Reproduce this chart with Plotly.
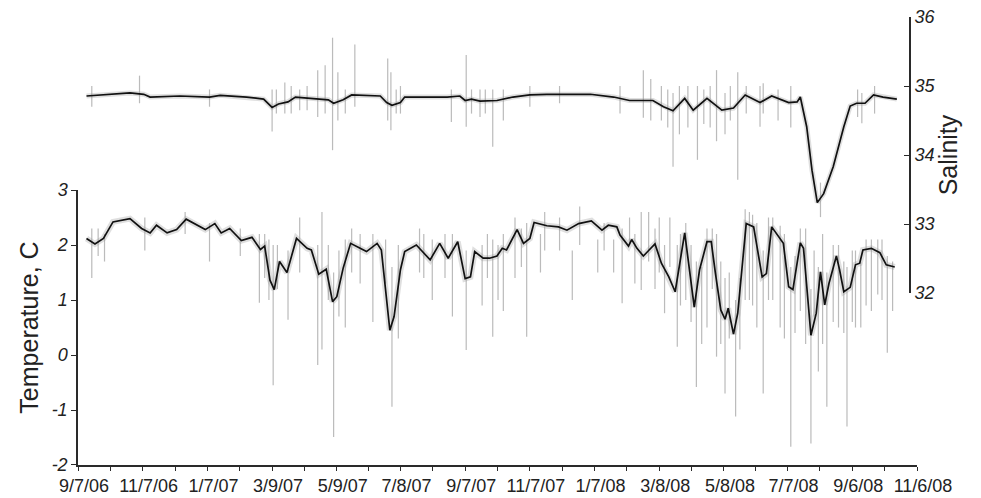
import plotly.graph_objects as go
import pandas as pd

START = pd.Timestamp("2006-09-07")
END = pd.Timestamp("2008-11-06")

# Smoothed temperature (days since 9/7/06, deg C)
temp_days = [8, 16, 24, 33, 49, 60, 68, 74, 84, 93, 102, 112, 120, 129, 135, 143, 154, 164,
             172, 176, 181, 185, 190, 197, 206, 216, 220, 227, 234, 240, 244, 250, 257, 266,
             272, 282, 286, 294, 298, 304, 308, 319, 332, 341, 349, 358, 365, 370, 374, 382,
             388, 395, 400, 404, 409, 414, 420, 426, 430, 442, 453, 461, 472, 484, 494, 500,
             508, 511, 519, 522, 527, 533, 538, 544, 550, 557, 563, 572, 581, 586, 593, 597,
             601, 606, 610, 613, 618, 622, 630, 637, 645, 649, 654, 665, 670, 674, 681, 684,
             691, 696, 700, 704, 708, 715, 718, 722, 728, 733, 737, 740, 748, 756, 762, 770]
temp_vals = [2.12, 2.02, 2.12, 2.42, 2.48, 2.30, 2.22, 2.36, 2.22, 2.28, 2.47, 2.36, 2.28, 2.39,
             2.22, 2.30, 2.08, 2.14, 1.92, 1.98, 1.36, 1.19, 1.70, 1.50, 2.12, 1.94, 1.91, 1.47,
             1.56, 0.97, 1.06, 1.58, 2.03, 1.94, 1.88, 2.03, 1.91, 0.45, 0.70, 1.55, 1.88, 2.00,
             1.73, 2.03, 1.76, 2.06, 1.39, 1.42, 1.88, 1.76, 1.76, 1.80, 1.94, 1.91, 2.10, 2.28,
             2.03, 2.12, 2.41, 2.35, 2.33, 2.27, 2.39, 2.44, 2.27, 2.36, 2.33, 2.18, 1.98, 2.10,
             1.94, 1.80, 1.90, 2.02, 1.67, 1.42, 1.15, 2.22, 0.87, 1.55, 2.06, 2.06, 1.48, 0.82,
             0.65, 0.85, 0.38, 0.76, 2.39, 2.33, 1.42, 1.48, 2.33, 2.03, 1.24, 1.19, 2.04, 1.94,
             0.36, 0.76, 1.51, 0.91, 1.30, 1.80, 1.55, 1.15, 1.23, 1.64, 1.67, 1.91, 1.94, 1.86,
             1.64, 1.60]

# Smoothed salinity
sal_days = [8, 27, 49, 62, 68, 96, 124, 134, 159, 175, 183, 189, 194, 198, 205, 222, 236, 241,
            250, 258, 285, 291, 296, 304, 308, 348, 360, 365, 371, 379, 395, 410, 417, 426, 442,
            483, 505, 520, 542, 552, 561, 572, 580, 593, 607, 618, 629, 643, 654, 670, 678, 681,
            687, 692, 697, 703, 712, 722, 728, 734, 742, 750, 759, 772]
sal_vals = [34.855, 34.88, 34.90, 34.88, 34.84, 34.855, 34.84, 34.865, 34.84, 34.81, 34.69, 34.74,
            34.76, 34.77, 34.84, 34.82, 34.80, 34.75, 34.80, 34.87, 34.855, 34.76, 34.72, 34.76,
            34.84, 34.84, 34.855, 34.79, 34.81, 34.78, 34.79, 34.84, 34.855, 34.87, 34.88, 34.88,
            34.84, 34.79, 34.79, 34.70, 34.64, 34.82, 34.65, 34.82, 34.65, 34.68, 34.87, 34.76,
            34.855, 34.76, 34.77, 34.84, 34.41, 33.78, 33.31, 33.44, 33.83, 34.41, 34.71, 34.75,
            34.75, 34.87, 34.84, 34.81]

# Raw-record excursions (day, low, high)
temp_spike_days = [13, 25, 63, 101, 124, 153, 171, 176, 184, 198, 209, 226, 230, 241, 252, 266,
                   278, 296, 302, 322, 334, 353, 366, 381, 391, 401, 412, 423, 440, 454, 473, 496,
                   513, 525, 531, 544, 553, 565, 573, 583, 593, 602, 610, 620, 629, 636, 646, 655,
                   662, 672, 681, 691, 698, 706, 717, 725, 733, 743, 754, 763, 768,
                   19, 180, 188, 236, 246, 258, 290, 326, 346, 386, 396, 418, 436, 466, 490, 505,
                   520, 538, 548, 558, 568, 578, 588, 598, 606, 614, 624, 633, 640, 651, 666, 676,
                   686, 694, 702, 712, 722, 730, 738, 748, 758]
temp_spike_lo = [1.4, 1.7, 1.9, 2.2, 1.7, 1.8, 0.95, 1.4, -0.55, 0.64, 1.5, -0.18, 0.1, -1.49, 0.5,
                 1.3, 0.6, -0.94, 0.3, 1.5, 1.0, 0.7, 0.09, 0.9, 0.33, 0.8, 1.4, 0.33, 1.9, 1.9,
                 2.0, 1.9, 0.94, 1.3, 1.18, 1.2, 0.76, 0.15, 1.0, -0.58, 0.5, -0.03, -0.70, -1.12,
                 1.0, 0.9, -0.70, 1.0, 0.5, -1.67, 0.8, -1.61, -0.3, -0.94, 0.5, -1.30, 0.5, 0.9,
                 1.1, 0.04, 0.8,
                 1.8, 1.0, 1.2, 1.0, 0.7, 1.5, 1.3, 1.4, 1.4, 1.4, 1.0, 1.6, 1.5, 1.0, 1.5, 1.5,
                 2.0, 1.7, 1.5, 1.6, 0.9, 0.6, 0.2, 1.2, 0.2, 0.3, 0.1, 1.0, 0.5, 1.0, 0.3, 0.4,
                 0.2, 0.7, 0.2, 0.6, 0.4, 0.6, 0.5, 0.8, 1.0]
temp_spike_hi = [2.3, 2.2, 2.5, 2.6, 2.4, 2.3, 2.2, 2.2, 2.0, 1.9, 2.5, 2.0, 2.6, 1.5, 2.1, 2.2,
                 2.2, 1.6, 2.0, 2.3, 2.1, 2.2, 1.9, 2.0, 2.1, 2.2, 2.5, 2.4, 2.6, 2.5, 2.7, 2.4,
                 2.3, 2.2, 2.6, 2.3, 2.0, 2.0, 2.4, 1.7, 2.3, 2.2, 1.4, 1.0, 2.65, 2.55, 1.9, 2.5,
                 2.35, 1.6, 2.3, 1.2, 1.6, 1.5, 2.0, 1.6, 1.9, 2.1, 2.1, 1.8, 1.7,
                 2.3, 2.1, 2.0, 2.0, 1.9, 2.3, 2.1, 2.2, 2.2, 2.2, 2.0, 2.3, 2.2, 1.9, 2.1, 2.1,
                 2.5, 2.6, 2.5, 2.5, 2.2, 2.0, 1.6, 2.3, 1.7, 1.5, 1.4, 2.6, 2.4, 2.5, 2.2, 1.8,
                 2.3, 1.9, 2.2, 2.0, 1.7, 1.9, 1.7, 2.1, 2.1]

sal_spike_days = [13, 58, 124, 183, 195, 201, 209, 226, 233, 240, 245, 261, 292, 295, 304, 352,
                  366, 379, 391, 401, 426, 454, 511, 533, 550, 561, 567, 584, 596, 602, 610, 622,
                  643, 646, 672, 700, 739, 751,
                  187, 216, 252, 300, 371, 384, 540, 556, 575, 590, 615, 630, 660, 735]
sal_spike_lo = [34.7, 34.75, 34.7, 34.34, 34.6, 34.6, 34.65, 34.55, 34.6, 34.07, 34.5, 34.7, 34.5,
                34.36, 34.6, 34.48, 34.41, 34.55, 34.12, 34.5, 34.7, 34.75, 34.6, 34.54, 34.5,
                33.83, 34.3, 33.93, 34.4, 34.2, 34.3, 33.64, 34.41, 34.6, 34.4, 33.1, 34.46, 34.6,
                34.6, 34.65, 34.6, 34.6, 34.6, 34.6, 34.5, 34.4, 34.4, 34.45, 34.5, 34.6, 34.5,
                34.55]
sal_spike_hi = [35.0, 35.15, 34.95, 34.95, 35.05, 35.0, 34.95, 35.23, 35.3, 35.7, 35.2, 35.6, 35.4,
                35.2, 35.0, 34.95, 35.45, 34.95, 34.95, 34.95, 35.0, 35.0, 35.0, 35.23, 35.0,
                34.9, 35.0, 35.0, 35.0, 35.23, 34.9, 35.2, 35.0, 35.04, 35.0, 33.6, 34.9, 35.0,
                34.95, 35.0, 34.95, 34.95, 34.95, 34.95, 35.1, 34.95, 35.0, 34.95, 35.0, 35.0,
                34.95, 34.95]

tick_dates = ["2006-09-07", "2006-11-07", "2007-01-07", "2007-03-09", "2007-05-09", "2007-07-08",
              "2007-09-07", "2007-11-07", "2008-01-07", "2008-03-08", "2008-05-08", "2008-07-07",
              "2008-09-06", "2008-11-06"]
tick_labels = ["9/7/06", "11/7/06", "1/7/07", "3/9/07", "5/9/07", "7/8/07", "9/7/07", "11/7/07",
               "1/7/08", "3/8/08", "5/8/08", "7/7/08", "9/6/08", "11/6/08"]


def to_dates(days):
    return [START + pd.Timedelta(days=d) for d in days]


def spikes(days, lo, hi):
    xs, ys = [], []
    for d, a, b in zip(to_dates(days), lo, hi):
        xs += [d, d, None]
        ys += [a, b, None]
    return xs, ys


tick_ts = [pd.Timestamp(t) for t in tick_dates]
minor_ts = [tick_ts[i] + (tick_ts[i + 1] - tick_ts[i]) / 2 for i in range(len(tick_ts) - 1)]

FONT = "Liberation Sans, Arial, sans-serif"
GRAY = "rgba(120,120,120,0.5)"
FUZZ = "rgba(150,150,150,0.30)"
AX = "#2a2a2a"

fig = go.Figure()

tx, ty = spikes(temp_spike_days, temp_spike_lo, temp_spike_hi)
sx, sy = spikes(sal_spike_days, sal_spike_lo, sal_spike_hi)

fig.add_trace(go.Scatter(x=tx, y=ty, mode="lines", line=dict(color=GRAY, width=1.2),
                         hoverinfo="skip", showlegend=False))
fig.add_trace(go.Scatter(x=to_dates(temp_days), y=temp_vals, mode="lines",
                         line=dict(color=FUZZ, width=6), hoverinfo="skip", showlegend=False))
fig.add_trace(go.Scatter(x=to_dates(temp_days), y=temp_vals, mode="lines",
                         line=dict(color="#111111", width=1.7), showlegend=False,
                         name="Temperature"))

fig.add_trace(go.Scatter(x=sx, y=sy, mode="lines", line=dict(color=GRAY, width=1.2),
                         hoverinfo="skip", showlegend=False, yaxis="y2"))
fig.add_trace(go.Scatter(x=to_dates(sal_days), y=sal_vals, mode="lines",
                         line=dict(color=FUZZ, width=5), hoverinfo="skip", showlegend=False,
                         yaxis="y2"))
fig.add_trace(go.Scatter(x=to_dates(sal_days), y=sal_vals, mode="lines",
                         line=dict(color="#111111", width=1.7), showlegend=False,
                         name="Salinity", yaxis="y2"))

fig.update_layout(
    width=981, height=498,
    margin=dict(l=78, r=64, t=17, b=33, autoexpand=False),
    paper_bgcolor="white", plot_bgcolor="rgba(0,0,0,0)",
    font=dict(family=FONT, color="#222222"),
    xaxis=dict(
        range=[START, END], showgrid=False, zeroline=False, automargin=False,
        showline=True, linecolor=AX, linewidth=1.5,
        tickmode="array", tickvals=tick_ts, ticktext=tick_labels,
        ticks="outside", ticklen=4, tickwidth=1.3, tickcolor=AX,
        minor=dict(tickmode="array", tickvals=minor_ts, ticks="outside", ticklen=4,
                   tickwidth=1.3, tickcolor=AX),
        tickfont=dict(size=18, family=FONT, color="#222222"),
        ticklabelshift=6, ticklabelstandoff=0,
    ),
    yaxis=dict(
        domain=[0, 0.6138], range=[-2, 3], showgrid=False, zeroline=False, automargin=False,
        showline=True, linecolor=AX, linewidth=1.5,
        tickmode="array", tickvals=[-2, -1, 0, 1, 2, 3], ticktext=["-2", "-1", "0", "1", "2", "3"],
        ticks="outside", ticklen=5, tickwidth=1.3, tickcolor=AX,
        tickfont=dict(size=18, family=FONT, style="italic", color="#222222"),
        title=dict(text="Temperature, C", font=dict(size=25, family=FONT, color="#222222"),
                   standoff=6),
    ),
    yaxis2=dict(
        domain=[0.3839, 1.0], range=[32, 36], anchor="free", position=0.9917, side="right",
        showgrid=False, zeroline=False, automargin=False,
        showline=True, linecolor=AX, linewidth=1.5,
        tickmode="array", tickvals=[32, 33, 34, 35, 36], ticktext=["32", "33", "34", "35", "36"],
        ticks="inside", ticklen=5, tickwidth=1.3, tickcolor=AX,
        tickfont=dict(size=18, family=FONT, style="italic", color="#222222"),
        title=dict(text="Salinity", font=dict(size=25, family=FONT, color="#222222"),
                   standoff=4),
    ),
)

fig.write_html("out.html")
